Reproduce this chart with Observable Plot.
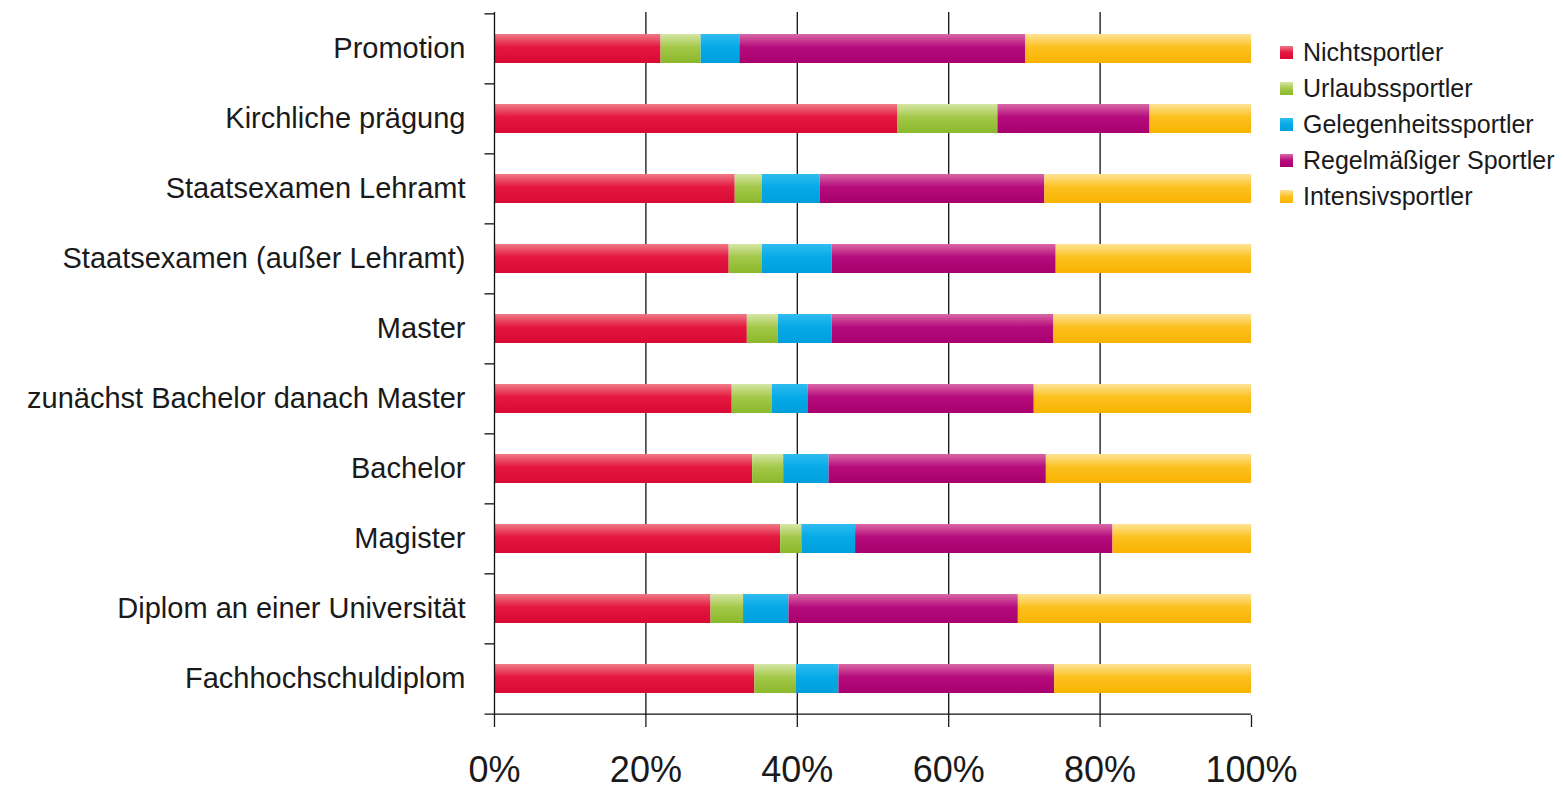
<!DOCTYPE html>
<html>
<head>
<meta charset="utf-8">
<script src="https://cdn.jsdelivr.net/npm/d3@7"></script>
<script src="https://cdn.jsdelivr.net/npm/@observablehq/plot@0.6"></script>
<style>
  html, body { margin: 0; padding: 0; background: #fff; }
  #chart { position: relative; width: 1563px; height: 789px; font-family: "Liberation Sans", Arial, sans-serif; }
  #legend { position: absolute; left: 1280px; top: 34px; }
  .item { display: flex; align-items: center; height: 36.2px; font-size: 25px; color: #1a1a1a; white-space: nowrap; }
  .sw { width: 13px; height: 13px; margin-right: 10px; flex: none; }
</style>
</head>
<body>
<div id="chart"><div id="legend"></div></div>
<script>
// Degree types (top to bottom)
const categories = [
  "Promotion",
  "Kirchliche prägung",
  "Staatsexamen Lehramt",
  "Staatsexamen (außer Lehramt)",
  "Master",
  "zunächst Bachelor danach Master",
  "Bachelor",
  "Magister",
  "Diplom an einer Universität",
  "Fachhochschuldiplom"
];

// Share of each sport type per degree, in percent
const nichtsportler        = [22.0, 53.3, 31.8, 31.0, 33.4, 31.4, 34.1, 37.8, 28.6, 34.4];
const urlaubssportler      = [ 5.3, 13.2,  3.6,  4.4,  4.1,  5.3,  4.1,  2.8,  4.3,  5.5];
const gelegenheitssportler = [ 5.1,  0.0,  7.6,  9.2,  7.1,  4.7,  6.0,  7.1,  6.0,  5.6];
const regelmaessig         = [37.8, 20.1, 29.7, 29.6, 29.3, 29.9, 28.7, 34.0, 30.3, 28.5];
const intensivsportler     = [29.8, 13.4, 27.3, 25.8, 26.1, 28.7, 27.1, 18.3, 30.8, 26.0];

const seriesNames = ["Nichtsportler", "Urlaubssportler", "Gelegenheitssportler", "Regelmäßiger Sportler", "Intensivsportler"];
const seriesValues = [nichtsportler, urlaubssportler, gelegenheitssportler, regelmaessig, intensivsportler];

// Light top, saturated body, slightly darker bottom
const palette = [
  {top: "#f07a86", mid: "#e3173f", bot: "#d80a36"},
  {top: "#d6e6a6", mid: "#a4c84a", bot: "#8ab82a"},
  {top: "#30bcf0", mid: "#06aae6", bot: "#009fdc"},
  {top: "#d868a6", mid: "#b60b7c", bot: "#a8006f"},
  {top: "#ffe496", mid: "#fcc020", bot: "#f8b300"}
];
const ticks = [0, 20, 40, 60, 80, 100];

const rows = [];
seriesNames.forEach((s, si) => {
  categories.forEach((c, ci) => {
    rows.push({category: c, series: s, si, value: seriesValues[si][ci]});
  });
});

const half = 35.15; // half of one band step, in px
const svg = Plot.plot({
  width: 1563,
  height: 789,
  marginTop: 12,
  marginBottom: 74,
  marginLeft: 494,
  marginRight: 312,
  style: {fontFamily: "'Liberation Sans', Arial, sans-serif", color: "#1a1a1a", background: "#fff"},
  x: {domain: [0, 100]},
  y: {domain: categories, paddingInner: 0.585, paddingOuter: 0.2925},
  color: {type: "identity"},
  marks: [
    Plot.gridX(ticks.filter(t => t > 0 && t < 100), {stroke: "#111", strokeOpacity: 1, strokeWidth: 1.3}),
    Plot.barX(rows, Plot.stackX({
      x: "value",
      y: "category",
      order: "si",
      fill: d => `url(#grad${d.si})`
    })),
    Plot.ruleX([0], {stroke: "#111", strokeWidth: 1.3}),
    // band boundary ticks on the left axis
    Plot.ruleY(categories, {y: d => d, x1: -1.25, x2: 0, dy: -half, stroke: "#111", strokeWidth: 1.3}),
    Plot.ruleY(categories.slice(-1), {y: d => d, x1: -1.25, x2: 100, dy: half, stroke: "#111", strokeWidth: 1.3}),
    Plot.axisY({tickSize: 0, tickPadding: 29, fontSize: 29, label: null}),
    Plot.axisX({ticks, tickFormat: d => d + "%", tickSize: 12, tickPadding: 29, fontSize: 36, label: null, strokeWidth: 1.3})
  ]
});

// vertical gradients used by the bar fills
const defs = d3.select(svg).insert("defs", ":first-child");
palette.forEach((p, i) => {
  const g = defs.append("linearGradient").attr("id", `grad${i}`).attr("x1", 0).attr("y1", 0).attr("x2", 0).attr("y2", 1);
  g.append("stop").attr("offset", "0%").attr("stop-color", p.top);
  g.append("stop").attr("offset", "45%").attr("stop-color", p.mid);
  g.append("stop").attr("offset", "100%").attr("stop-color", p.bot);
});

const chart = document.getElementById("chart");
chart.insertBefore(svg, chart.firstChild);

// legend
const legend = d3.select("#legend");
seriesNames.forEach((s, i) => {
  const p = palette[i];
  const item = legend.append("div").attr("class", "item");
  item.append("div").attr("class", "sw")
    .style("background", `linear-gradient(${p.top}, ${p.mid} 50%, ${p.bot})`);
  item.append("span").text(s);
});
</script>
</body>
</html>
